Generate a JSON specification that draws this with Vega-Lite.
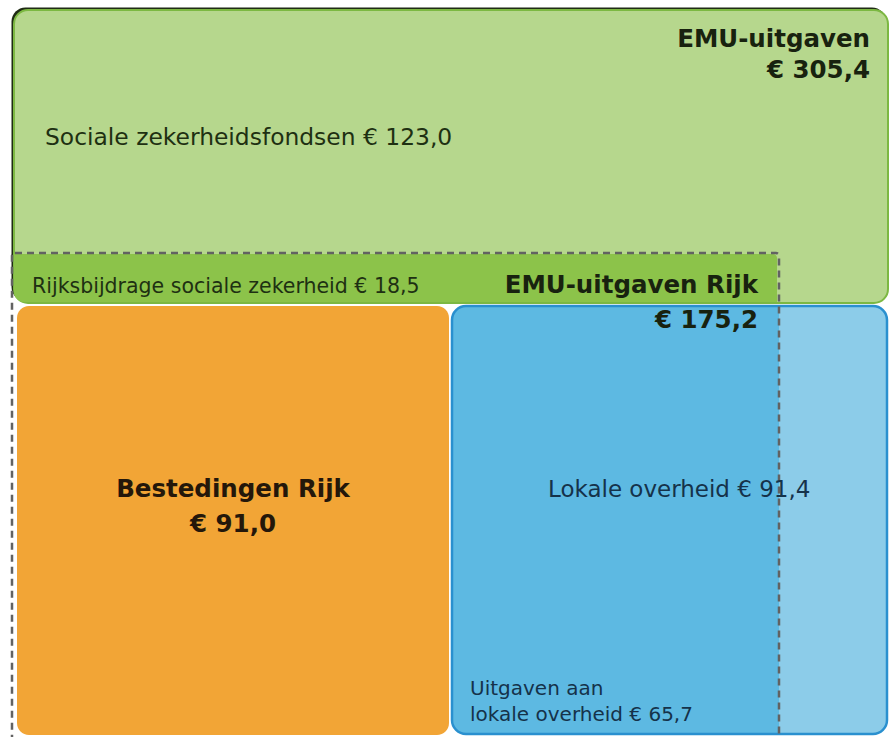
{
  "$schema": "https://vega.github.io/schema/vega-lite/v6.json",
  "width": 891,
  "height": 737,
  "padding": 0,
  "autosize": {"type": "none"},
  "background": "#ffffff",
  "config": {"view": {"stroke": null}, "axis": {"disable": true}},
  "datasets": {
    "boxes": [
      {"id": "EMU-uitgaven", "x": 14, "x2": 888, "y": 10, "y2": 303},
      {"id": "Rijksbijdrage sociale zekerheid", "x": 14, "x2": 777, "y": 254, "y2": 302},
      {"id": "Bestedingen Rijk", "x": 17, "x2": 449, "y": 306, "y2": 735},
      {"id": "Lokale overheid", "x": 452, "x2": 887, "y": 306, "y2": 734},
      {"id": "Uitgaven aan lokale overheid", "x": 453, "x2": 779, "y": 307, "y2": 733},
      {"id": "EMU-uitgaven Rijk", "x": 12, "x2": 779, "y": 253, "y2": 742}
    ],
    "labels": [
      {"id": "emu", "label": "EMU-uitgaven", "x": 870, "y": 47},
      {"id": "emu", "label": "€ 305,4", "x": 870, "y": 78},
      {"id": "rijk", "label": "EMU-uitgaven Rijk", "x": 758, "y": 293},
      {"id": "rijk", "label": "€ 175,2", "x": 758, "y": 328},
      {"id": "best", "label": "Bestedingen Rijk", "x": 233, "y": 497},
      {"id": "best", "label": "€ 91,0", "x": 233, "y": 532},
      {"id": "soc", "label": "Sociale zekerheidsfondsen € 123,0", "x": 45, "y": 145},
      {"id": "rbsz", "label": "Rijksbijdrage sociale zekerheid € 18,5", "x": 32, "y": 293},
      {"id": "lok", "label": "Lokale overheid € 91,4", "x": 548, "y": 497},
      {"id": "ulo", "label": "Uitgaven aan", "x": 470, "y": 695},
      {"id": "ulo", "label": "lokale overheid € 65,7", "x": 470, "y": 721}
    ]
  },
  "layer": [
    {
      "data": {"name": "boxes"},
      "transform": [{"filter": "datum.id == 'EMU-uitgaven'"}],
      "mark": {"type": "rect", "fill": "#1f2b14", "cornerRadius": 14, "xOffset": -2.5, "x2Offset": -2, "yOffset": -2.5, "y2Offset": -2},
      "encoding": {
        "x": {"field": "x", "type": "quantitative", "scale": {"domain": [0, 891], "nice": false, "zero": false}},
        "x2": {"field": "x2"},
        "y": {"field": "y", "type": "quantitative", "scale": {"domain": [0, 737], "nice": false, "zero": false, "reverse": true}},
        "y2": {"field": "y2"}
      }
    },
    {
      "data": {"name": "boxes"},
      "transform": [{"filter": "datum.id == 'EMU-uitgaven'"}],
      "mark": {"type": "rect", "fill": "#b6d78d", "stroke": "#7cb842", "strokeWidth": 2, "cornerRadius": 14},
      "encoding": {
        "x": {"field": "x", "type": "quantitative"},
        "x2": {"field": "x2"},
        "y": {"field": "y", "type": "quantitative"},
        "y2": {"field": "y2"}
      }
    },
    {
      "data": {"name": "boxes"},
      "transform": [{"filter": "datum.id == 'Rijksbijdrage sociale zekerheid'"}],
      "mark": {"type": "rect", "fill": "#8cc34a", "cornerRadiusBottomLeft": 10, "cornerRadiusTopRight": 4},
      "encoding": {
        "x": {"field": "x", "type": "quantitative"},
        "x2": {"field": "x2"},
        "y": {"field": "y", "type": "quantitative"},
        "y2": {"field": "y2"}
      }
    },
    {
      "data": {"name": "boxes"},
      "transform": [{"filter": "datum.id == 'Bestedingen Rijk'"}],
      "mark": {"type": "rect", "fill": "#f2a536", "cornerRadius": 12},
      "encoding": {
        "x": {"field": "x", "type": "quantitative"},
        "x2": {"field": "x2"},
        "y": {"field": "y", "type": "quantitative"},
        "y2": {"field": "y2"}
      }
    },
    {
      "data": {"name": "boxes"},
      "transform": [{"filter": "datum.id == 'Lokale overheid'"}],
      "mark": {"type": "rect", "fill": "#8ccce9", "cornerRadius": 14},
      "encoding": {
        "x": {"field": "x", "type": "quantitative"},
        "x2": {"field": "x2"},
        "y": {"field": "y", "type": "quantitative"},
        "y2": {"field": "y2"}
      }
    },
    {
      "data": {"name": "boxes"},
      "transform": [{"filter": "datum.id == 'Uitgaven aan lokale overheid'"}],
      "mark": {"type": "rect", "fill": "#5db9e2", "cornerRadiusTopLeft": 12, "cornerRadiusBottomLeft": 12},
      "encoding": {
        "x": {"field": "x", "type": "quantitative"},
        "x2": {"field": "x2"},
        "y": {"field": "y", "type": "quantitative"},
        "y2": {"field": "y2"}
      }
    },
    {
      "data": {"name": "boxes"},
      "transform": [{"filter": "datum.id == 'Lokale overheid'"}],
      "mark": {"type": "rect", "filled": false, "stroke": "#2a90cf", "strokeWidth": 2.5, "cornerRadius": 14},
      "encoding": {
        "x": {"field": "x", "type": "quantitative"},
        "x2": {"field": "x2"},
        "y": {"field": "y", "type": "quantitative"},
        "y2": {"field": "y2"}
      }
    },
    {
      "data": {"name": "boxes"},
      "transform": [{"filter": "datum.id == 'EMU-uitgaven Rijk'"}],
      "mark": {"type": "rect", "filled": false, "stroke": "#626262", "strokeWidth": 2.5, "strokeDash": [7, 5], "cornerRadius": 3},
      "encoding": {
        "x": {"field": "x", "type": "quantitative"},
        "x2": {"field": "x2"},
        "y": {"field": "y", "type": "quantitative"},
        "y2": {"field": "y2"}
      }
    },
    {
      "data": {"name": "labels"},
      "transform": [{"filter": "datum.id == 'emu' || datum.id == 'rijk'"}],
      "mark": {"type": "text", "font": "DejaVu Sans", "fontWeight": "bold", "fontSize": 24.5, "align": "right", "baseline": "alphabetic", "fill": "#18220f"},
      "encoding": {
        "x": {"field": "x", "type": "quantitative"},
        "y": {"field": "y", "type": "quantitative"},
        "text": {"field": "label"}
      }
    },
    {
      "data": {"name": "labels"},
      "transform": [{"filter": "datum.id == 'best'"}],
      "mark": {"type": "text", "font": "DejaVu Sans", "fontWeight": "bold", "fontSize": 24.5, "align": "center", "baseline": "alphabetic", "fill": "#24170a"},
      "encoding": {
        "x": {"field": "x", "type": "quantitative"},
        "y": {"field": "y", "type": "quantitative"},
        "text": {"field": "label"}
      }
    },
    {
      "data": {"name": "labels"},
      "transform": [{"filter": "datum.id == 'soc'"}],
      "mark": {"type": "text", "font": "DejaVu Sans", "fontSize": 23.4, "align": "left", "baseline": "alphabetic", "fill": "#1e3012"},
      "encoding": {
        "x": {"field": "x", "type": "quantitative"},
        "y": {"field": "y", "type": "quantitative"},
        "text": {"field": "label"}
      }
    },
    {
      "data": {"name": "labels"},
      "transform": [{"filter": "datum.id == 'rbsz'"}],
      "mark": {"type": "text", "font": "DejaVu Sans", "fontSize": 20.5, "align": "left", "baseline": "alphabetic", "fill": "#1e3012"},
      "encoding": {
        "x": {"field": "x", "type": "quantitative"},
        "y": {"field": "y", "type": "quantitative"},
        "text": {"field": "label"}
      }
    },
    {
      "data": {"name": "labels"},
      "transform": [{"filter": "datum.id == 'lok'"}],
      "mark": {"type": "text", "font": "DejaVu Sans", "fontSize": 23, "align": "left", "baseline": "alphabetic", "fill": "#15324a"},
      "encoding": {
        "x": {"field": "x", "type": "quantitative"},
        "y": {"field": "y", "type": "quantitative"},
        "text": {"field": "label"}
      }
    },
    {
      "data": {"name": "labels"},
      "transform": [{"filter": "datum.id == 'ulo'"}],
      "mark": {"type": "text", "font": "DejaVu Sans", "fontSize": 20, "align": "left", "baseline": "alphabetic", "fill": "#15324a"},
      "encoding": {
        "x": {"field": "x", "type": "quantitative"},
        "y": {"field": "y", "type": "quantitative"},
        "text": {"field": "label"}
      }
    }
  ]
}
